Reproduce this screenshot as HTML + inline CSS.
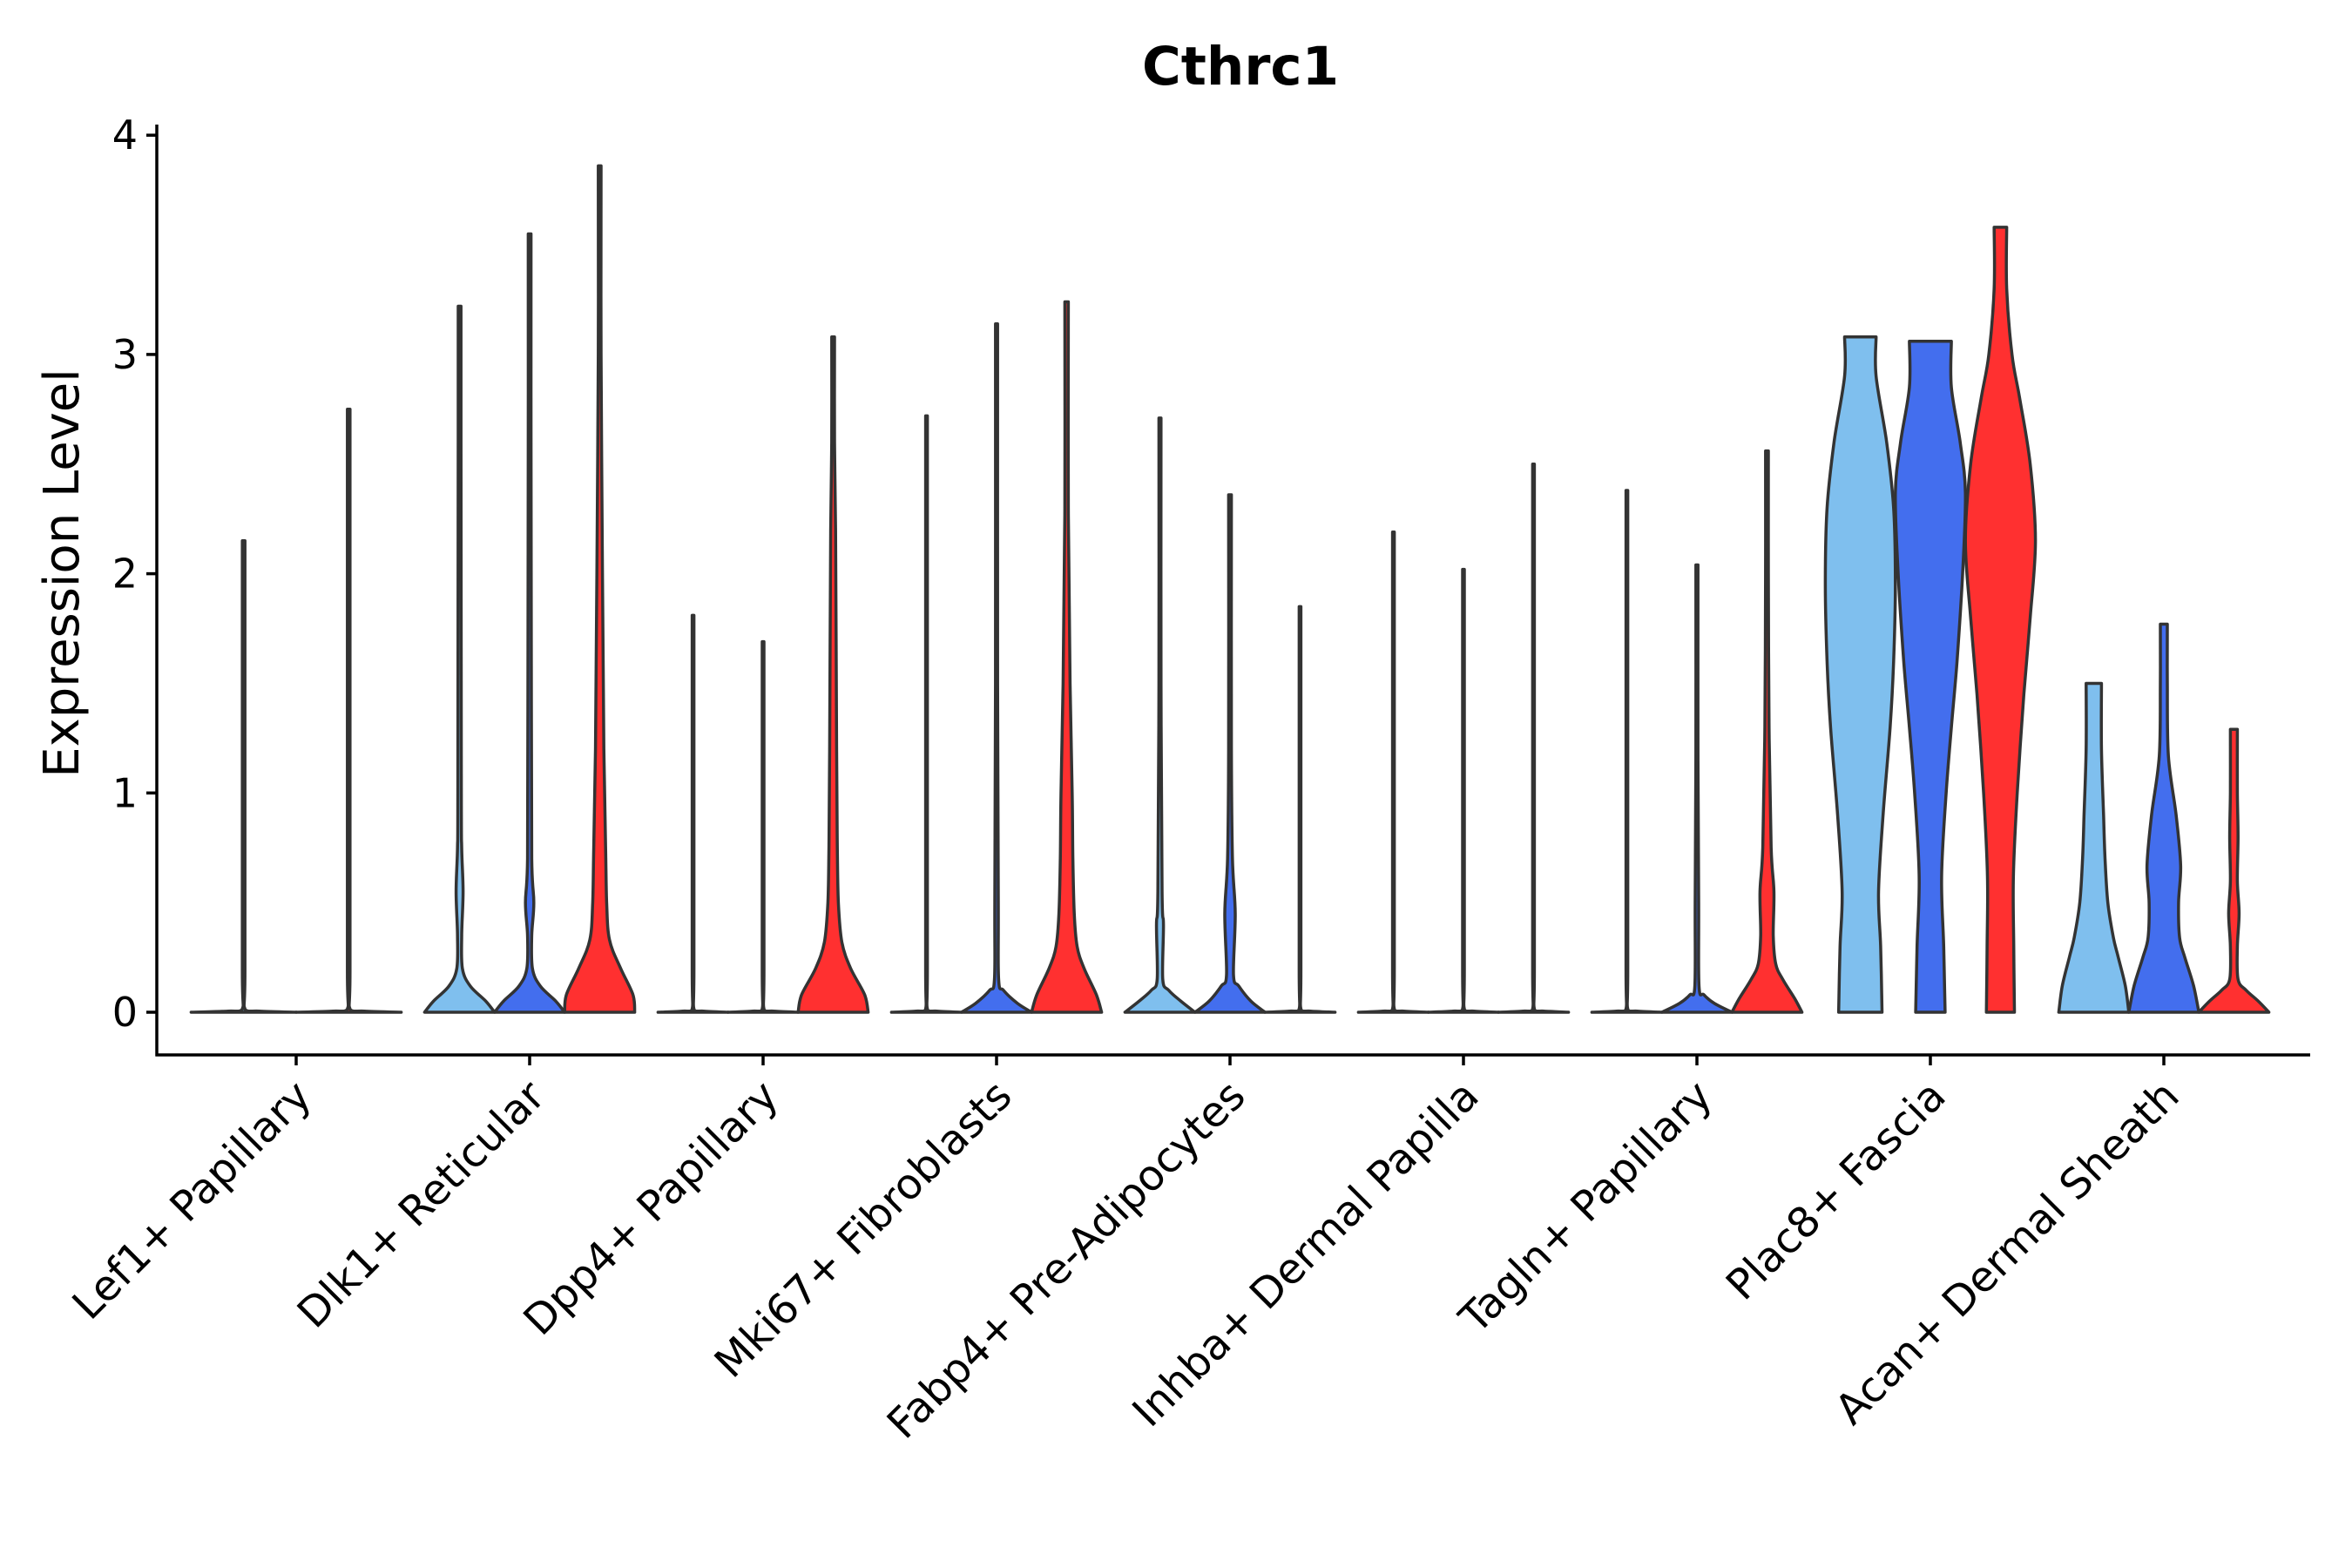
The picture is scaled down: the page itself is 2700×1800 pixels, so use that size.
<!DOCTYPE html>
<html><head><meta charset="utf-8">
<style>
html,body{margin:0;padding:0;background:#fff;}
svg{display:block;font-family:"DejaVu Sans","Liberation Sans",sans-serif;}
</style></head>
<body>
<svg id="chart" width="2700" height="1800" viewBox="0 0 2700 1800" xmlns="http://www.w3.org/2000/svg">
  <text x="1424" y="97" font-size="61" font-weight="bold" text-anchor="middle" font-family="DejaVu Sans, sans-serif">Cthrc1</text>
  <text transform="translate(90,658) rotate(-90)" font-size="56" text-anchor="middle" font-family="DejaVu Sans, sans-serif">Expression Level</text>
  <g id="marks"></g>
  <g id="axes"></g>
</svg>
<script>
const categories = ["Lef1+ Papillary","Dlk1+ Reticular","Dpp4+ Papillary","Mki67+ Fibroblasts","Fabp4+ Pre-Adipocytes","Inhba+ Dermal Papilla","Tagln+ Papillary","Plac8+ Fascia","Acan+ Dermal Sheath"];
const seriesColors = ["#7FBFEE","#436EEE","#FF3030"];
const seriesPresent = [[0,2],[0,1,2],[0,1,2],[0,1,2],[0,1,2],[0,1,2],[0,1,2],[0,1,2],[0,1,2]];
const maxValues = [[2.15,2.75],[3.22,3.55,3.86],[1.81,1.69,3.08],[2.72,3.14,3.24],[2.71,2.36,1.85],[2.19,2.02,2.50],[2.38,2.04,2.56],[3.08,3.06,3.58],[1.50,1.77,1.29]];
const flat = [[0,1],[0.005,0.3],[0.012,0.03],[0.2,0.025]];
const profiles = [
  [flat, flat],
  [[[0,1],[0.05,0.75],[0.12,0.3],[0.2,0.08],[0.35,0.06],[0.55,0.1],[0.75,0.06],[1.0,0.05],[2.6,0.04]],
   [[0,1],[0.05,0.75],[0.12,0.3],[0.2,0.08],[0.35,0.06],[0.5,0.12],[0.7,0.06],[1.4,0.05],[2.6,0.04]],
   [[0,1],[0.08,0.95],[0.2,0.6],[0.33,0.28],[0.5,0.2],[0.75,0.17],[1.2,0.12],[2.0,0.08],[3.0,0.04]]],
  [flat, flat,
   [[0,1],[0.08,0.9],[0.2,0.5],[0.32,0.25],[0.5,0.15],[0.75,0.12],[1.2,0.1],[2.2,0.07],[2.6,0.04]]],
  [flat,
   [[0,1],[0.04,0.6],[0.1,0.2],[0.15,0.06],[0.5,0.05],[1.5,0.03]],
   [[0,1],[0.08,0.85],[0.2,0.5],[0.3,0.3],[0.45,0.22],[0.7,0.18],[1.0,0.16],[1.5,0.1],[2.3,0.05]]],
  [[[0,1],[0.05,0.6],[0.1,0.25],[0.15,0.08],[0.4,0.1],[0.55,0.06],[1.5,0.03]],
   [[0,1],[0.05,0.6],[0.12,0.25],[0.17,0.1],[0.45,0.15],[0.7,0.07],[1.2,0.04]],
   flat],
  [flat, flat, flat],
  [flat,
   [[0,1],[0.04,0.5],[0.08,0.2],[0.12,0.06],[0.5,0.05],[1.2,0.03]],
   [[0,1],[0.06,0.8],[0.15,0.45],[0.22,0.25],[0.35,0.18],[0.55,0.2],[0.75,0.12],[1.3,0.06],[2.0,0.04]]],
  [[[0,0.62],[0.3,0.58],[0.55,0.52],[0.9,0.65],[1.3,0.85],[1.6,0.95],[1.95,1.0],[2.3,0.95],[2.6,0.75],[2.9,0.45],[3.08,0.27]],
   [[0,0.42],[0.3,0.38],[0.62,0.32],[1.0,0.45],[1.3,0.6],[1.6,0.76],[2.0,0.92],[2.37,1.0],[2.6,0.85],[2.85,0.6],[3.06,0.33]],
   [[0,0.4],[0.3,0.38],[0.62,0.37],[1.0,0.48],[1.45,0.67],[1.8,0.85],[2.15,1.0],[2.5,0.85],[2.8,0.55],[3.0,0.33],[3.3,0.18],[3.58,0.05]]],
  [[[0,1],[0.12,0.9],[0.25,0.7],[0.34,0.56],[0.5,0.4],[0.7,0.32],[0.89,0.28],[1.2,0.22],[1.5,0.13]],
   [[0,1],[0.12,0.85],[0.25,0.6],[0.34,0.45],[0.5,0.42],[0.67,0.48],[0.9,0.35],[1.17,0.13],[1.5,0.1],[1.77,0.1]],
   [[0,1],[0.05,0.7],[0.1,0.35],[0.15,0.12],[0.3,0.1],[0.45,0.15],[0.6,0.1],[0.8,0.12],[1.0,0.1],[1.29,0.08]]]
];
const yTicks = [0,1,2,3,4];

const NS = "http://www.w3.org/2000/svg";
const plotLeft = 180, plotRight = 2652, y0 = 1162, unit = 251.7, axisY = 1211;
const tick0 = 340, step = 268;
function yScale(v){ return y0 - v*unit; }
function xCat(i){ return tick0 + i*step; }

function smoothPath(pts){
  let d = "";
  const base = yScale(0);
  for (let i = 0; i < pts.length - 1; i++){
    const p0 = pts[Math.max(0,i-1)], p1 = pts[i], p2 = pts[i+1], p3 = pts[Math.min(pts.length-1,i+2)];
    const c1 = [p1[0] + (p2[0]-p0[0])/6, Math.min(base, p1[1] + (p2[1]-p0[1])/6)];
    const c2 = [p2[0] - (p3[0]-p1[0])/6, Math.min(base, p2[1] - (p3[1]-p1[1])/6)];
    d += "C" + c1[0].toFixed(1) + "," + c1[1].toFixed(1) + " " + c2[0].toFixed(1) + "," + c2[1].toFixed(1) + " " + p2[0].toFixed(1) + "," + p2[1].toFixed(1) + " ";
  }
  return d;
}

const marks = document.getElementById("marks");
const axes = document.getElementById("axes");

categories.forEach((cat, ci) => {
  const present = seriesPresent[ci];
  const n = present.length;
  const slot = step*0.9/n;
  const half = slot/2;
  present.forEach((s, k) => {
    const cx = xCat(ci) - step*0.45 + slot*(k+0.5);
    const mx = maxValues[ci][k];
    let pts = profiles[ci][k].filter(p => p[0] < mx);
    const lastW = pts[pts.length-1][1];
    pts = pts.concat([[mx, lastW]]);
    const right = pts.map(p => [cx + p[1]*half, yScale(p[0])]);
    const left = pts.slice().reverse().map(p => [cx - p[1]*half, yScale(p[0])]);
    let d = "M" + left[left.length-1][0].toFixed(1) + "," + yScale(0).toFixed(1) + " ";
    d += "L" + right[0][0].toFixed(1) + "," + right[0][1].toFixed(1) + " ";
    d += smoothPath(right);
    d += "L" + left[0][0].toFixed(1) + "," + left[0][1].toFixed(1) + " ";
    d += smoothPath(left);
    d += "Z";
    const path = document.createElementNS(NS, "path");
    path.setAttribute("d", d);
    path.setAttribute("fill", seriesColors[s]);
    path.setAttribute("stroke", "#333333");
    path.setAttribute("stroke-width", "3.5");
    path.setAttribute("stroke-linejoin", "round");
    
    
    marks.appendChild(path);
  });
  const t = document.createElementNS(NS, "line");
  t.setAttribute("x1", xCat(ci)); t.setAttribute("x2", xCat(ci));
  t.setAttribute("y1", axisY); t.setAttribute("y2", axisY + 12);
  t.setAttribute("stroke", "#000"); t.setAttribute("stroke-width", "3.5");
  
  
  axes.appendChild(t);
  const lab = document.createElementNS(NS, "text");
  lab.textContent = cat;
  lab.setAttribute("font-size", "48");
  lab.setAttribute("font-family", "DejaVu Sans, sans-serif");
  lab.setAttribute("text-anchor", "end");
  lab.setAttribute("transform", "translate(" + (xCat(ci) + 20) + "," + (axisY + 50) + ") rotate(-45)");
  
  
  axes.appendChild(lab);
});

yTicks.forEach(v => {
  const t = document.createElementNS(NS, "line");
  t.setAttribute("x1", plotLeft - 12); t.setAttribute("x2", plotLeft);
  t.setAttribute("y1", yScale(v)); t.setAttribute("y2", yScale(v));
  t.setAttribute("stroke", "#000"); t.setAttribute("stroke-width", "3.5");
  
  
  axes.appendChild(t);
  const lab = document.createElementNS(NS, "text");
  lab.textContent = v;
  lab.setAttribute("x", plotLeft - 22);
  lab.setAttribute("y", yScale(v) + 16);
  lab.setAttribute("font-size", "46");
  lab.setAttribute("font-family", "DejaVu Sans, sans-serif");
  lab.setAttribute("text-anchor", "end");
  
  
  axes.appendChild(lab);
});

const yAxis = document.createElementNS(NS, "line");
yAxis.setAttribute("x1", plotLeft); yAxis.setAttribute("x2", plotLeft);
yAxis.setAttribute("y1", 143); yAxis.setAttribute("y2", axisY + 1.5);
yAxis.setAttribute("stroke", "#000"); yAxis.setAttribute("stroke-width", "3.5");


axes.appendChild(yAxis);
const xAxis = document.createElementNS(NS, "line");
xAxis.setAttribute("x1", plotLeft - 1.5); xAxis.setAttribute("x2", plotRight);
xAxis.setAttribute("y1", axisY); xAxis.setAttribute("y2", axisY);
xAxis.setAttribute("stroke", "#000"); xAxis.setAttribute("stroke-width", "3.5");


axes.appendChild(xAxis);
</script>
</body></html>
